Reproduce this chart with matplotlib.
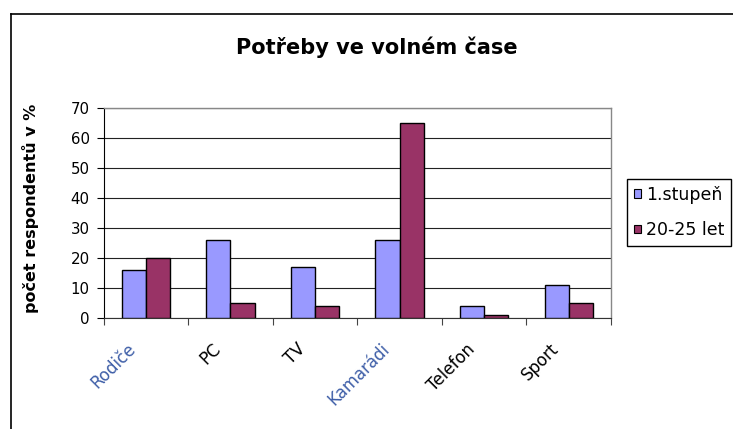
import numpy as np
import matplotlib.pyplot as plt
from matplotlib.lines import Line2D
from matplotlib.patches import Patch

plt.rcParams['font.family'] = ['DejaVu Sans']

#==============================================
#                   DATA
#==============================================
categories = ['Rodiče', 'PC', 'TV', 'Kamarádi', 'Telefon', 'Sport']
series_names = ['1.stupeň', '20-25 let']
stupen1 = [16, 26, 17, 26, 4, 11]
let20_25 = [20, 5, 4, 65, 1, 5]
yticks = [0, 10, 20, 30, 40, 50, 60, 70]

colors = ['#9999FF', '#993366']
label_colors = ['#3f5fa8', 'black', 'black', '#3f5fa8', 'black', 'black']

#==============================================
#                   FIGURE
#==============================================
fig = plt.figure(figsize=(7.33, 4.29), dpi=100)
ax = fig.add_axes([103.5/733, 1 - 317.7/429, (611 - 103.5)/733, (317.7 - 108)/429])

x = np.arange(len(categories))
w = 1/3.5
ax.bar(x - w/2, stupen1, w, color=colors[0], edgecolor='black', linewidth=1.0, zorder=3)
ax.bar(x + w/2, let20_25, w, color=colors[1], edgecolor='black', linewidth=1.0, zorder=3)

ax.set_xlim(-0.5, len(categories) - 0.5)
ax.set_ylim(0, 70)
ax.set_yticks(yticks)
ax.tick_params(axis='y', length=5, width=0.8, pad=5, labelsize=10.8)
ax.yaxis.grid(True, color='#222222', linewidth=0.8, zorder=0)

# category boundary ticks
ax.set_xticks(np.arange(len(categories) + 1) - 0.5)
ax.set_xticklabels([])
ax.tick_params(axis='x', length=5, width=0.8, color='#444444')

for i, (c, lc) in enumerate(zip(categories, label_colors)):
    ax.text(i - 0.07, -7.5, c, rotation=45, ha='right', va='top',
            fontsize=12, color=lc)

for s in ['top', 'right']:
    ax.spines[s].set_color('#888888')
    ax.spines[s].set_linewidth(1.0)
ax.spines['left'].set_color('black')
ax.spines['bottom'].set_color('#333333')

fig.text(377/733, 1 - 47/429, 'Potřeby ve volném čase', ha='center', va='center',
         fontsize=15, fontweight='bold')
fig.text(31/733, 1 - 208/429, 'počet respondentů v %', ha='center', va='center',
         rotation=90, fontsize=11.5, fontweight='bold')

handles = [Patch(facecolor=c, edgecolor='black', linewidth=0.8) for c in colors]
leg = fig.legend(handles, series_names, loc='upper left',
                 bbox_to_anchor=(627/733, 1 - 179/429), borderaxespad=0,
                 fontsize=12.5, handlelength=0.4, handleheight=0.4,
                 handletextpad=0.3, labelspacing=1.0, borderpad=0.4,
                 fancybox=False, framealpha=1, edgecolor='black')
leg.get_frame().set_linewidth(1.0)

# outer chart border
fig.add_artist(Line2D([10.5/733, 10.5/733], [0, 1 - 13.5/429], color='black', lw=1.2))
fig.add_artist(Line2D([10.5/733, 1], [1 - 13.5/429, 1 - 13.5/429], color='black', lw=1.2))

fig.savefig('out.png', dpi=100)
